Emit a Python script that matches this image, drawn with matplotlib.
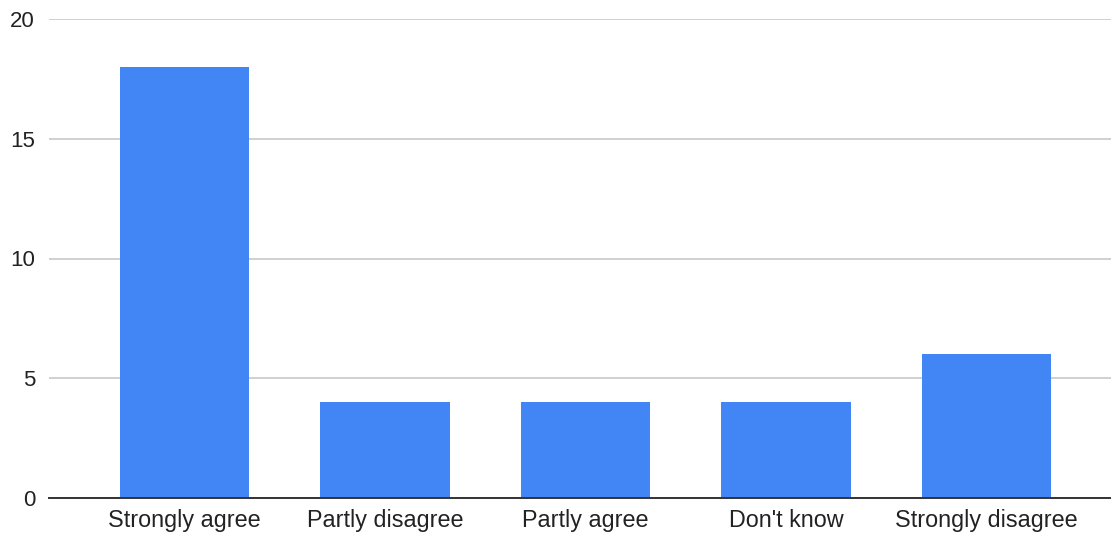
import numpy as np
import matplotlib
matplotlib.use("Agg")
import matplotlib.pyplot as plt

# survey responses
answers = ["Strongly agree", "Partly disagree", "Partly agree", "Don't know", "Strongly disagree"]
counts = [18, 4, 4, 4, 6]
y_ticks = [0, 5, 10, 15, 20]

plt.rcParams['font.family'] = ['Liberation Sans', 'DejaVu Sans']

fig = plt.figure(figsize=(11.11, 5.38), dpi=100)
ax = fig.add_axes([49 / 1111, 40 / 538, 1 - 49 / 1111, 479 / 538])

index = np.arange(len(answers))
ax.bar(index, counts, width=0.645, color='#4285f4', zorder=3)

ax.set_xlim(-0.676, 4.621)
ax.set_ylim(0, 20)
ax.set_yticks(y_ticks)
ax.set_yticklabels([str(v) for v in y_ticks])
ax.set_xticks(index)
ax.set_xticklabels(answers)

ax.grid(axis='y', color='#c8c8c8', linewidth=1.2, zorder=0)
ax.tick_params(axis='both', length=0, colors='#222222')
ax.tick_params(axis='y', pad=10, labelsize=16)
ax.tick_params(axis='x', pad=8, labelsize=16.8)

for side in ['top', 'right', 'left']:
    ax.spines[side].set_visible(False)
ax.spines['bottom'].set_color('#333333')
ax.spines['bottom'].set_linewidth(1.4)
ax.spines['bottom'].set_zorder(4)

fig.savefig('out.png', dpi=100)
